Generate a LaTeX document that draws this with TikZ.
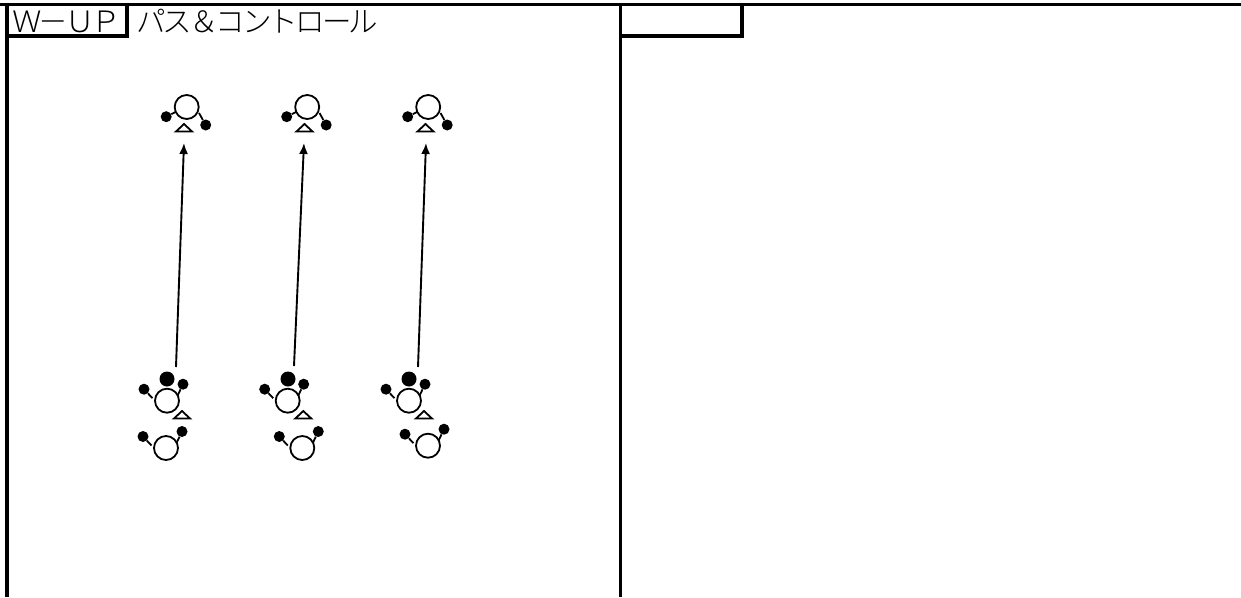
\documentclass[tikz,border=0pt]{standalone}
\usepackage{fontspec}
\newfontfamily\cjk[LetterSpace=-10]{Noto Sans CJK JP Light}
\usetikzlibrary{arrows.meta}
\tikzset{
  frameline/.style={line width=3.2pt,line cap=butt},
  head/.style={circle,draw=black,line width=1.8pt,minimum size=24pt,inner sep=0pt,fill=white},
  hand/.style={circle,fill=black,minimum size=11pt,inner sep=0pt},
  ballmark/.style={circle,fill=black,minimum size=15pt,inner sep=0pt},
  arm/.style={line width=1.8pt},
  conemark/.style={line width=1.8pt,line join=miter},
  run/.style={line width=1.9pt,-{Latex[length=11pt,width=9pt]}},
  title/.style={inner sep=0pt,anchor=west,font=\cjk\fontsize{29.5}{29.5}\selectfont,text=black}
}
\newcommand{\playerUp}[3]{% name, x, y
  \node[head] (#1) at (#2,#3) {};
  \node[hand] (#1l) at (#2-20.5,#3+9.7) {};
  \node[hand] (#1r) at (#2+19,#3+18) {};
  \draw[arm] (#1l) -- (#2-11,#3+5);
  \draw[arm] (#1r) -- (#2+12.3,#3+6);
}
\newcommand{\playerDown}[3]{% name, x, y
  \node[head] (#1) at (#2,#3) {};
  \node[hand] (#1l) at (#2-23,#3-11.5) {};
  \node[hand] (#1r) at (#2+16,#3-16.5) {};
  \draw[arm] (#1l) -- (#2-14.5,#3-2.5);
  \draw[arm] (#1r) -- (#2+10.5,#3-5);
}
\newcommand{\conemk}[3]{% name, x, y (base centre)
  \draw[conemark] (#2-8,#3) coordinate (#1) -- (#2+8,#3) -- (#2,#3-7.5) -- cycle;
}
\begin{document}
\begin{tikzpicture}[x=1pt,y=-1pt]
\useasboundingbox (0,0) rectangle (1241,597);
% frames
\draw[frameline] (0,4.5) -- (1241,4.5);
\draw[frameline] (7,3) -- (7,597);
\draw[frameline] (620.5,3) -- (620.5,597);
\draw[frameline] (7,36) -- (127,36) -- (127,3);
\draw[frameline] (620.5,36) -- (742,36) -- (742,3);
\node[title] (t1) at (12,21.5) {Ｗ－ＵＰ};
\node[title] (t2) at (136,21.5) {パス＆コントロール};
% upper players
\playerUp{u1}{186.7}{107}
\playerUp{u2}{307.2}{107}
\playerUp{u3}{428.2}{107}
\conemk{uc1}{184}{131.5}
\conemk{uc2}{304.5}{131.5}
\conemk{uc3}{425.5}{131.5}
% lower front players
\playerDown{m1}{167}{400.7}
\playerDown{m2}{287.7}{400.7}
\playerDown{m3}{409}{400.7}
\node[ballmark] (b1) at (167,379) {};
\node[ballmark] (b2) at (288,379) {};
\node[ballmark] (b3) at (409,379) {};
\conemk{mc1}{182}{418.5}
\conemk{mc2}{303.3}{418.5}
\conemk{mc3}{424}{418.5}
\playerDown{d1}{166}{448}
\playerDown{d2}{302.3}{448}
\playerDown{d3}{428}{445.7}
% runs
\coordinate (s1) at (176,367); \coordinate (e1) at (184,143);
\coordinate (s2) at (294,366); \coordinate (e2) at (304,143);
\coordinate (s3) at (418,367); \coordinate (e3) at (426,143);
\draw[run] (s1) -- (e1);
\draw[run] (s2) -- (e2);
\draw[run] (s3) -- (e3);
\end{tikzpicture}
\end{document}
